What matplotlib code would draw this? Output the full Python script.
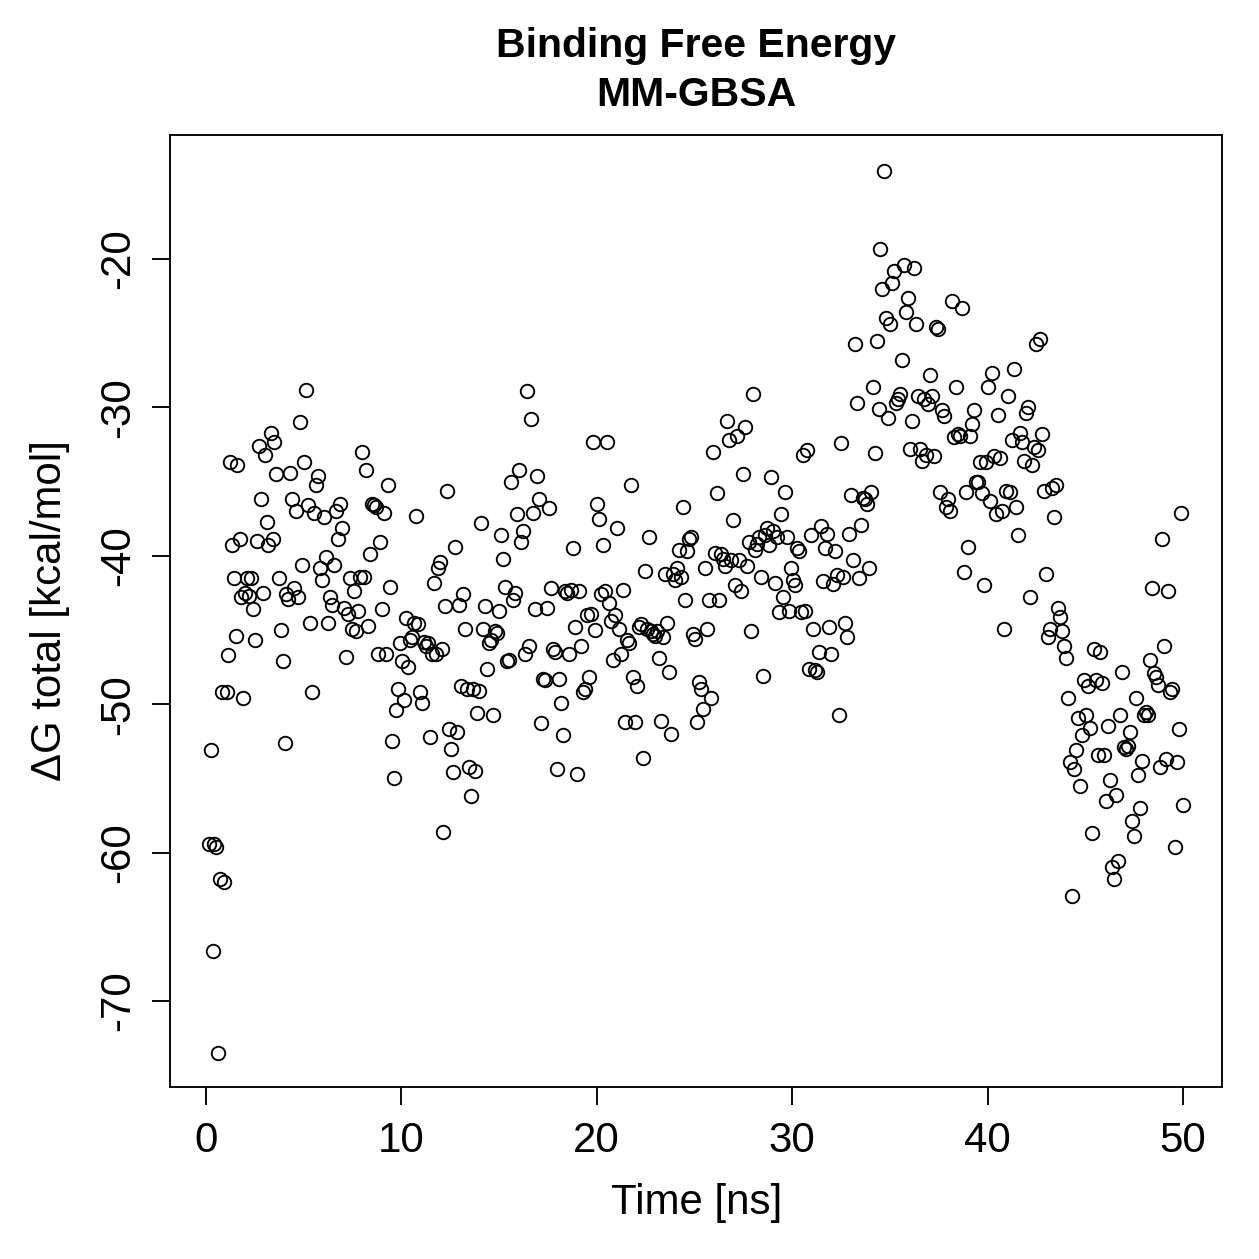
"""MM-GBSA binding free energy vs simulation time (R base-graphics look)."""

import matplotlib
matplotlib.use("Agg")
import matplotlib.pyplot as plt

plt.rcParams["font.family"] = ["Liberation Sans", "DejaVu Sans"]

TITLE = ["Binding Free Energy", "MM-GBSA"]
XLABEL = "Time [ns]"
YLABEL = "\u0394G total [kcal/mol]"
XTICKS = [0, 10, 20, 30, 40, 50]
YTICKS = [-70, -60, -50, -40, -30, -20]

# frame times (ns)
time_ns = [
    0.15, 0.26, 0.36, 0.41, 0.51, 0.61, 0.72, 0.82, 0.92, 1.07, 1.13, 1.23, 1.33, 1.43, 1.54, 1.59, 1.74, 1.79, 1.89, 2.00,
    2.10, 2.20, 2.30, 2.41, 2.51, 2.61, 2.71, 2.81, 2.92, 3.02, 3.12, 3.17, 3.33, 3.43, 3.48, 3.58, 3.74, 3.84, 3.94, 4.04,
    4.09, 4.20, 4.30, 4.40, 4.50, 4.61, 4.71, 4.81, 4.91, 5.02, 5.12, 5.22, 5.32, 5.42, 5.53, 5.63, 5.73, 5.83, 5.94, 6.04,
    6.14, 6.24, 6.35, 6.45, 6.55, 6.65, 6.76, 6.86, 6.96, 7.06, 7.16, 7.27, 7.37, 7.47, 7.57, 7.68, 7.78, 7.88, 7.98, 8.09,
    8.19, 8.29, 8.39, 8.50, 8.60, 8.70, 8.80, 8.90, 9.01, 9.11, 9.21, 9.31, 9.42, 9.52, 9.62, 9.72, 9.83, 9.93, 10.03, 10.13,
    10.24, 10.34, 10.44, 10.54, 10.64, 10.75, 10.85, 10.95, 11.05, 11.16, 11.26, 11.36, 11.46, 11.57, 11.67, 11.77, 11.87, 11.98, 12.08, 12.13,
    12.23, 12.33, 12.44, 12.54, 12.64, 12.74, 12.85, 12.95, 13.05, 13.15, 13.25, 13.36, 13.46, 13.56, 13.66, 13.77, 13.87, 13.97, 14.07, 14.18,
    14.28, 14.38, 14.48, 14.59, 14.69, 14.79, 14.89, 14.99, 15.10, 15.20, 15.30, 15.40, 15.51, 15.61, 15.71, 15.81, 15.92, 16.02, 16.12, 16.22,
    16.33, 16.43, 16.53, 16.63, 16.73, 16.84, 16.94, 17.04, 17.14, 17.25, 17.35, 17.45, 17.55, 17.66, 17.76, 17.86, 17.96, 18.07, 18.17, 18.27,
    18.37, 18.48, 18.58, 18.68, 18.78, 18.88, 18.99, 19.09, 19.19, 19.29, 19.40, 19.50, 19.60, 19.70, 19.81, 19.91, 20.01, 20.11, 20.21, 20.32,
    20.42, 20.52, 20.62, 20.73, 20.83, 20.93, 21.03, 21.14, 21.24, 21.34, 21.44, 21.55, 21.65, 21.75, 21.85, 21.95, 22.06, 22.16, 22.26, 22.36,
    22.47, 22.57, 22.67, 22.77, 22.88, 22.98, 23.08, 23.18, 23.29, 23.39, 23.49, 23.59, 23.70, 23.80, 23.90, 24.00, 24.10, 24.21, 24.31, 24.41,
    24.51, 24.62, 24.72, 24.82, 24.92, 25.03, 25.13, 25.23, 25.33, 25.44, 25.54, 25.64, 25.74, 25.84, 25.95, 26.05, 26.15, 26.25, 26.36, 26.46,
    26.56, 26.66, 26.77, 26.87, 26.97, 27.07, 27.18, 27.28, 27.38, 27.48, 27.58, 27.69, 27.79, 27.89, 27.99, 28.10, 28.20, 28.30, 28.40, 28.51,
    28.61, 28.71, 28.81, 28.92, 29.02, 29.12, 29.22, 29.32, 29.43, 29.53, 29.63, 29.73, 29.84, 29.94, 30.04, 30.14, 30.25, 30.35, 30.45, 30.55,
    30.65, 30.76, 30.86, 30.96, 31.06, 31.17, 31.27, 31.37, 31.47, 31.58, 31.68, 31.78, 31.88, 31.99, 32.09, 32.19, 32.29, 32.40, 32.50, 32.60,
    32.70, 32.80, 32.91, 33.01, 33.11, 33.21, 33.32, 33.42, 33.52, 33.62, 33.73, 33.83, 33.93, 34.03, 34.14, 34.24, 34.34, 34.44, 34.49, 34.60,
    34.70, 34.80, 34.90, 35.01, 35.11, 35.21, 35.31, 35.41, 35.52, 35.62, 35.72, 35.82, 35.93, 36.03, 36.13, 36.23, 36.34, 36.44, 36.54, 36.64,
    36.75, 36.85, 36.95, 37.05, 37.15, 37.26, 37.36, 37.46, 37.56, 37.67, 37.77, 37.87, 37.97, 38.08, 38.18, 38.28, 38.38, 38.49, 38.59, 38.69,
    38.79, 38.90, 39.00, 39.10, 39.20, 39.30, 39.41, 39.51, 39.61, 39.71, 39.82, 39.92, 40.02, 40.12, 40.23, 40.33, 40.43, 40.53, 40.63, 40.74,
    40.84, 40.94, 41.04, 41.15, 41.25, 41.35, 41.45, 41.56, 41.66, 41.76, 41.86, 41.97, 42.07, 42.17, 42.27, 42.37, 42.48, 42.58, 42.68, 42.78,
    42.89, 42.99, 43.09, 43.19, 43.30, 43.40, 43.50, 43.60, 43.71, 43.81, 43.91, 44.01, 44.11, 44.22, 44.32, 44.42, 44.52, 44.63, 44.73, 44.83,
    44.93, 45.04, 45.14, 45.24, 45.34, 45.45, 45.55, 45.65, 45.75, 45.86, 45.96, 46.06, 46.16, 46.26, 46.37, 46.47, 46.57, 46.67, 46.78, 46.88,
    46.98, 47.08, 47.19, 47.29, 47.39, 47.49, 47.60, 47.70, 47.80, 47.90, 48.00, 48.11, 48.21, 48.31, 48.41, 48.52, 48.62, 48.72, 48.82, 48.93,
    49.03, 49.13, 49.23, 49.34, 49.44, 49.59, 49.69, 49.80, 49.90, 50.00,
]

# total binding free energy per frame (kcal/mol)
dg_total = [
    -59.4, -53.1, -66.6, -59.4, -59.6, -73.5, -61.8, -49.2, -62.0, -49.2, -46.7, -33.7, -39.3, -41.5, -45.4, -33.9, -38.9, -42.8, -49.6, -42.5,
    -41.5, -42.7, -41.5, -43.6, -45.7, -39.0, -32.6, -36.2, -42.5, -33.2, -37.7, -39.3, -31.7, -38.9, -32.3, -34.5, -41.5, -45.0, -47.1, -52.6,
    -42.6, -42.9, -34.4, -36.2, -42.2, -37.0, -42.8, -31.0, -40.6, -33.7, -28.8, -36.6, -44.5, -49.2, -37.1, -35.2, -34.6, -40.8, -41.6, -37.4,
    -40.1, -44.5, -42.8, -43.3, -40.6, -37.0, -38.9, -36.5, -38.1, -43.5, -46.8, -43.9, -41.5, -44.9, -42.4, -45.1, -43.7, -41.4, -33.0, -41.4,
    -34.2, -44.7, -39.9, -36.5, -36.6, -36.7, -46.6, -39.1, -43.6, -37.1, -46.6, -35.2, -42.1, -52.5, -55.0, -50.4, -49.0, -45.9, -47.1, -49.7,
    -44.2, -47.5, -45.7, -45.5, -44.5, -37.3, -44.6, -49.2, -49.9, -45.8, -46.1, -45.9, -52.2, -46.6, -41.8, -46.6, -40.8, -40.4, -46.3, -58.6,
    -43.4, -35.6, -51.7, -53.0, -54.6, -39.4, -51.9, -43.3, -48.8, -42.6, -44.9, -49.0, -54.2, -56.2, -49.0, -54.5, -50.6, -49.1, -37.8, -44.9,
    -43.4, -47.6, -45.9, -45.7, -50.7, -45.1, -45.2, -43.7, -38.6, -40.2, -42.1, -47.1, -47.0, -35.0, -43.0, -42.5, -37.2, -34.2, -39.1, -38.3,
    -46.6, -28.9, -46.1, -30.8, -37.1, -43.6, -34.6, -36.2, -51.3, -48.3, -48.4, -43.5, -36.8, -42.2, -46.3, -46.5, -54.4, -48.3, -49.9, -52.1,
    -42.4, -42.5, -46.6, -42.3, -39.5, -44.8, -54.7, -42.4, -46.1, -49.2, -49.0, -44.0, -48.2, -43.9, -32.3, -45.0, -36.5, -37.5, -42.6, -39.3,
    -42.4, -32.3, -43.2, -44.4, -47.0, -44.0, -38.1, -44.9, -46.6, -42.3, -51.2, -45.7, -45.9, -35.2, -48.2, -51.2, -48.8, -44.8, -44.6, -53.6,
    -41.0, -44.9, -38.7, -45.1, -45.3, -45.4, -45.1, -46.9, -51.1, -45.5, -41.2, -44.5, -47.8, -52.0, -41.2, -41.6, -40.8, -39.6, -41.4, -36.7,
    -43.0, -39.7, -38.9, -38.7, -45.3, -45.6, -51.2, -48.5, -49.0, -50.3, -40.8, -44.9, -43.0, -49.6, -33.0, -39.8, -35.8, -43.0, -39.9, -40.2,
    -40.7, -30.9, -32.2, -40.3, -37.6, -42.0, -31.9, -40.3, -42.4, -34.5, -31.3, -40.7, -39.1, -45.1, -29.1, -39.6, -39.2, -38.7, -41.4, -48.1,
    -38.6, -38.1, -39.3, -34.7, -38.3, -41.8, -38.7, -43.8, -37.2, -42.8, -35.7, -38.7, -43.7, -40.8, -41.6, -42.0, -39.5, -39.7, -43.8, -33.2,
    -43.7, -32.9, -47.6, -38.6, -44.9, -47.7, -47.8, -46.5, -38.0, -41.7, -39.5, -38.5, -44.8, -46.6, -41.9, -39.7, -41.3, -50.7, -32.4, -41.4,
    -44.5, -45.5, -38.5, -35.9, -40.3, -25.7, -29.7, -41.5, -37.9, -36.1, -36.2, -36.5, -40.8, -35.7, -28.6, -33.1, -25.5, -30.1, -19.3, -22.0,
    -14.1, -24.0, -30.7, -24.4, -21.6, -20.8, -29.7, -29.4, -29.1, -26.8, -20.4, -23.6, -22.6, -32.8, -30.9, -20.6, -24.4, -29.2, -32.8, -33.6,
    -29.4, -33.2, -29.8, -27.8, -29.2, -33.3, -24.6, -24.7, -35.7, -30.2, -30.6, -36.7, -36.2, -37.0, -22.8, -32.0, -28.6, -31.8, -31.9, -23.3,
    -41.1, -35.7, -39.4, -31.9, -31.1, -30.2, -35.0, -35.0, -33.7, -35.8, -42.0, -33.7, -28.6, -36.3, -27.7, -33.3, -37.2, -30.5, -33.4, -37.0,
    -44.9, -35.6, -29.2, -35.7, -32.2, -27.4, -36.7, -38.6, -31.7, -32.3, -33.6, -30.4, -30.0, -42.8, -33.9, -32.7, -25.7, -32.9, -25.4, -31.8,
    -35.6, -41.2, -45.5, -44.9, -35.4, -37.4, -35.2, -43.5, -44.1, -45.1, -46.1, -46.9, -49.6, -53.9, -62.9, -54.4, -53.1, -50.9, -55.5, -52.1,
    -48.4, -50.7, -48.8, -51.6, -58.7, -46.3, -48.4, -53.4, -46.5, -48.6, -53.4, -56.5, -51.5, -55.1, -61.0, -61.8, -56.1, -60.6, -50.7, -47.8,
    -52.9, -53.0, -52.8, -51.9, -57.9, -58.9, -49.6, -54.8, -57.0, -53.8, -50.7, -50.5, -50.7, -47.0, -42.2, -47.9, -48.2, -48.7, -54.2, -38.9,
    -46.1, -53.7, -42.4, -49.2, -49.0, -59.6, -53.9, -51.7, -37.1, -56.8,
]

assert len(time_ns) == len(dg_total)

DPI = 180
fig = plt.figure(figsize=(1259 / DPI, 1259 / DPI), dpi=DPI)
ax = fig.add_axes([0.135, 0.1366, 0.8356, 0.7562])

ax.plot(time_ns, dg_total, linestyle="none", marker="o", markersize=5.4,
        markerfacecolor="none", markeredgecolor="black", markeredgewidth=0.75)

ax.set_xlim(-1.84, 52.0)
ax.set_ylim(-75.8, -11.64)
ax.set_xticks(XTICKS)
ax.set_yticks(YTICKS)
ax.set_xticklabels([str(v) for v in XTICKS], fontsize=16.8)
ax.set_yticklabels([str(v) for v in YTICKS], fontsize=16.8, rotation=90, va="center")
ax.tick_params(direction="out", length=7.2, width=0.75, colors="black")
ax.tick_params(axis="x", pad=6.5)
ax.tick_params(axis="y", pad=5.5)
for s in ax.spines.values():
    s.set_linewidth(0.75)

# R-style two-line bold main title and axis labels, placed like the original
fig.text(0.553, 0.9635, TITLE[0], ha="center", va="center",
         fontsize=16.4, fontweight="bold")
fig.text(0.553, 0.9245, TITLE[1], ha="center", va="center",
         fontsize=16.4, fontweight="bold")
fig.text(0.553, 0.0445, XLABEL, ha="center", va="center", fontsize=16.8)
fig.text(0.0397, 0.5147, YLABEL, ha="center", va="center", fontsize=16.8, rotation=90)

fig.savefig("out.png", dpi=DPI)
